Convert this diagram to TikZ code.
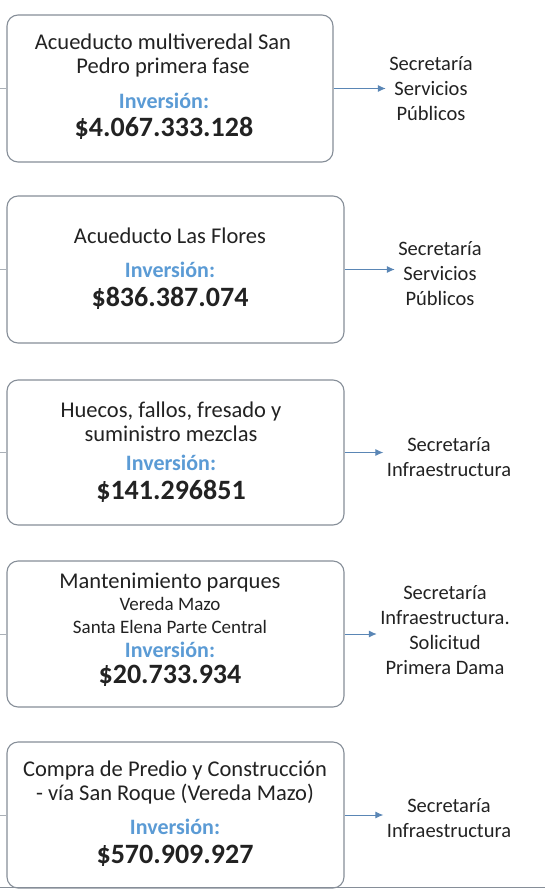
\documentclass[tikz,border=0pt]{standalone}
\usepackage{fontspec}
\setmainfont{Carlito}
\usetikzlibrary{arrows.meta, positioning}
\definecolor{boxgray}{HTML}{868E98}
\definecolor{invblue}{HTML}{5B9BD5}
\definecolor{arrblue}{HTML}{5A86B5}
\definecolor{textgray}{HTML}{222222}

\begin{document}
\begin{tikzpicture}[x=1pt, y=-1pt,
  every node/.style={text=textgray},
  proj/.style={draw=boxgray, line width=1.1pt, rounded corners=11pt,
               fill=white, inner sep=0pt, minimum width=337pt},
  ttl/.style={font=\fontsize{22.5}{24}\selectfont, align=center},
  sub/.style={font=\fontsize{19}{23}\selectfont, align=center},
  inv/.style={font=\bfseries\fontsize{22}{24}\selectfont, text=invblue},
  amt/.style={font=\bfseries\fontsize{28}{30}\selectfont},
  dep/.style={font=\fontsize{20.5}{25}\selectfont, align=center},
  arr/.style={-{Latex[length=8pt,width=7pt]}, draw=arrblue, line width=0.9pt},
  stub/.style={draw=boxgray!70, line width=0.9pt}
]
\useasboundingbox (0,0) rectangle (545,889);
\coordinate (edge) at (0,0);

%% project boxes
\node[proj, minimum width=326pt, minimum height=147pt] (p1) at (170,88.5) {};
\node[proj, minimum height=147pt] (p2) at (175.5,269.5) {};
\node[proj, minimum height=145pt] (p3) at (175.5,452.5) {};
\node[proj, minimum height=146pt] (p4) at (175.5,634) {};
\node[proj, minimum height=146pt] (p5) at (175.5,815) {};

%% box texts
\node[ttl] (t1) at (163,55.5) {Acueducto multiveredal San\\Pedro primera fase};
\node[inv] (i1) at (164,101) {Inversión:};
\node[amt] (a1) at (164,128) {\$4.067.333.128};

\node[ttl] (t2) at (170,236) {Acueducto Las Flores};
\node[inv] (i2) at (170,270) {Inversión:};
\node[amt] (a2) at (170,298) {\$836.387.074};

\node[ttl] (t3) at (171,421.5) {Huecos, fallos, fresado y\\suministro mezclas};
\node[inv] (i3) at (171,463) {Inversión:};
\node[amt] (a3) at (171,491) {\$141.296851};

\node[ttl] (t4) at (170,583) {Mantenimiento parques};
\node[sub] (s4) at (170,615.5) {Vereda Mazo\\Santa Elena Parte Central};
\node[inv] (i4) at (170,650) {Inversión:};
\node[amt] (a4) at (170,676) {\$20.733.934};

\node[ttl] (t5) at (175,782.5) {Compra de Predio y Construcción\\- vía San Roque (Vereda Mazo)};
\node[inv] (i5) at (175,827) {Inversión:};
\node[amt] (a5) at (175,856) {\$570.909.927};

%% responsible offices
\node[dep] (d1) at (431,89)    {Secretaría\\Servicios\\Públicos};
\node[dep] (d2) at (440,274)   {Secretaría\\Servicios\\Públicos};
\node[dep] (d3) at (449,457.5) {Secretaría\\Infraestructura};
\node[dep] (d4) at (445,630)   {Secretaría\\Infraestructura.\\Solicitud\\Primera Dama};
\node[dep] (d5) at (449,818.5) {Secretaría\\Infraestructura};

\foreach \p/\d in {p1/d1, p2/d2, p3/d3, p4/d4, p5/d5}
  \draw[arr] (\p.east) -- (\p.east -| \d.west);

% stubs from the left margin
\foreach \p in {p1,p2,p3,p4,p5}
  \draw[stub] (\p.west) -- (\p.west -| edge);

% bottom rule
\draw[boxgray, line width=1.2pt] (0,887.5) -- (545,887.5);

\end{tikzpicture}
\end{document}
